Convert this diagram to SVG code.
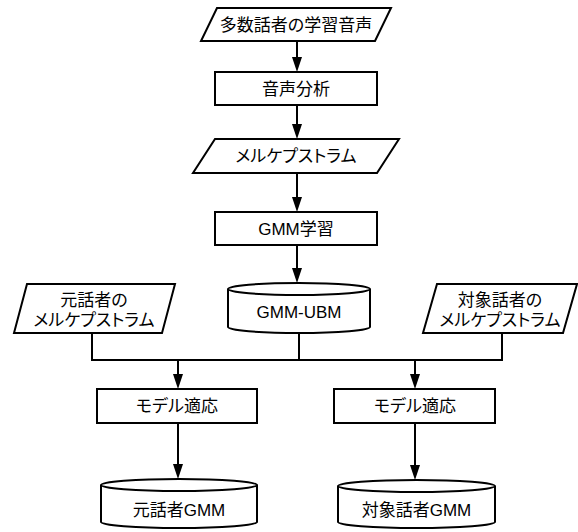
<svg xmlns="http://www.w3.org/2000/svg" width="578" height="532" viewBox="0 0 578 532">
<style>
.s{fill:#fff;stroke:#000;stroke-width:2}
.c{fill:none;stroke:#000;stroke-width:2}
.t{font-family:"Liberation Sans","Noto Sans CJK JP",sans-serif;font-size:17px;font-feature-settings:"palt";fill:#000;text-anchor:middle;dominant-baseline:central}
</style>
<defs>
<marker id="ah" markerUnits="userSpaceOnUse" viewBox="0 0 15 10" refX="12" refY="5" markerWidth="15" markerHeight="10" orient="auto">
<path d="M0,0 L15,5 L0,10 z" fill="#000"/>
</marker>
</defs>
<rect width="578" height="532" fill="#fff"/>
<g id="connectors">
<line class="c" x1="297" y1="41" x2="297" y2="69" marker-end="url(#ah)"/>
<line class="c" x1="297" y1="105" x2="297" y2="136" marker-end="url(#ah)"/>
<line class="c" x1="297" y1="173" x2="297" y2="209" marker-end="url(#ah)"/>
<line class="c" x1="297" y1="245" x2="297" y2="280" marker-end="url(#ah)"/>
<polyline class="c" points="92,333 92,360 502,360 502,333"/>
<line class="c" x1="299" y1="333" x2="299" y2="360"/>
<line class="c" x1="178" y1="360" x2="178" y2="386" marker-end="url(#ah)"/>
<line class="c" x1="415" y1="360" x2="415" y2="386" marker-end="url(#ah)"/>
<line class="c" x1="178" y1="423" x2="178" y2="476" marker-end="url(#ah)"/>
<line class="c" x1="415" y1="423" x2="415" y2="477" marker-end="url(#ah)"/>
</g>
<g id="n1">
<polygon class="s" points="217,8 391,8 375,41 201,41"/>
<text class="t" x="296" y="25">多数話者の学習音声</text>
</g>
<g id="n2">
<rect class="s" x="215" y="72" width="162" height="33"/>
<text class="t" x="296" y="89">音声分析</text>
</g>
<g id="n3">
<polygon class="s" points="215,139 399,139 377,173 193,173"/>
<text class="t" x="296" y="156">メルケプストラム</text>
</g>
<g id="n4">
<rect class="s" x="215" y="212" width="162" height="33"/>
<text class="t" x="296" y="229">GMM学習</text>
</g>
<g id="n5">
<path class="s" d="M228,289 L228,327 A71,6 0 0 0 370,327 L370,289"/>
<ellipse class="s" cx="299" cy="289" rx="71" ry="6"/>
<text class="t" x="299" y="312">GMM-UBM</text>
</g>
<g id="n6">
<polygon class="s" points="27,284 175,284 162,333 14,333"/>
<text class="t" x="94" y="300">元話者の</text>
<text class="t" x="94" y="320">メルケプストラム</text>
</g>
<g id="n7">
<polygon class="s" points="437,284 577,284 563,333 423,333"/>
<text class="t" x="500" y="300">対象話者の</text>
<text class="t" x="500" y="320">メルケプストラム</text>
</g>
<g id="n8">
<rect class="s" x="97" y="389" width="160" height="34"/>
<text class="t" x="177" y="406">モデル適応</text>
</g>
<g id="n9">
<rect class="s" x="334" y="389" width="161" height="34"/>
<text class="t" x="415" y="406">モデル適応</text>
</g>
<g id="n10">
<path class="s" d="M101,485 L101,522 A78,6 0 0 0 257,522 L257,485"/>
<ellipse class="s" cx="179" cy="485" rx="78" ry="6"/>
<text class="t" x="179" y="510">元話者GMM</text>
</g>
<g id="n11">
<path class="s" d="M338,486 L338,522 A78.5,6 0 0 0 495,522 L495,486"/>
<ellipse class="s" cx="416.5" cy="486" rx="78.5" ry="6"/>
<text class="t" x="416.5" y="510">対象話者GMM</text>
</g>
</svg>
